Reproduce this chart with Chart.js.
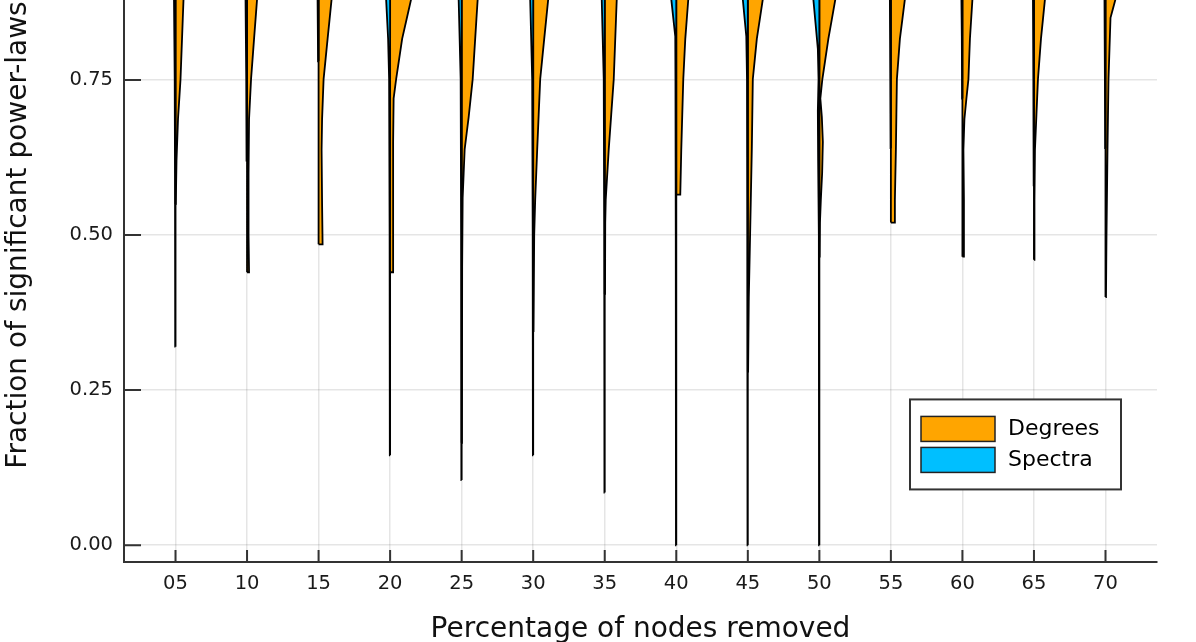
<!DOCTYPE html>
<html>
<head>
<meta charset="utf-8">
<script src="https://cdn.jsdelivr.net/npm/chart.js@4"></script>
<style>
  body { margin: 0; overflow: hidden; background: #fff; }
  #wrap { position: absolute; left: 0; top: -130px; width: 1196px; height: 772px; }
</style>
</head>
<body>
<div id="wrap"><canvas id="myChart"></canvas></div>
<script>
// categories on the x axis (percentage of nodes removed)
const categories = [5, 10, 15, 20, 25, 30, 35, 40, 45, 50, 55, 60, 65, 70];
const tickLabels = ['05', '10', '15', '20', '25', '30', '35', '40', '45', '50', '55', '60', '65', '70'];
const yTicks = [0, 0.25, 0.5, 0.75, 1.0];

// violin outlines: [value, density] pairs, bottom to top
// Degrees = right half (orange), Spectra = left half (blue)
const degreesProfiles = [
  [[0.55, 0.3], [0.62, 1], [0.687, 2.5], [0.751, 5], [0.816, 6.5], [0.88, 8], [0.94, 11], [1.0, 13]],
  [[0.44, 2], [0.5, 1.5], [0.6, 1.5], [0.687, 2], [0.751, 4], [0.816, 7], [0.88, 10], [0.94, 13], [1.0, 15]],
  [[0.485, 4], [0.55, 3.5], [0.638, 3], [0.687, 3.5], [0.751, 5], [0.816, 9], [0.88, 13], [0.94, 16], [1.0, 18]],
  [[0.44, 3], [0.55, 3], [0.65, 3], [0.72, 3.5], [0.751, 6], [0.816, 12], [0.88, 21], [0.94, 26], [1.0, 28]],
  [[0.165, 0.3], [0.45, 0.5], [0.56, 1], [0.638, 3], [0.69, 7], [0.751, 11], [0.816, 13.5], [0.88, 16], [0.94, 19], [1.0, 21]],
  [[0.345, 0.3], [0.5, 1], [0.557, 2], [0.638, 4], [0.751, 7], [0.816, 11], [0.88, 15], [0.94, 18], [1.0, 20]],
  [[0.405, 0.3], [0.52, 0.5], [0.557, 1], [0.638, 4], [0.751, 9], [0.816, 10.5], [0.88, 12], [0.94, 15], [1.0, 17]],
  [[0.565, 4], [0.638, 5], [0.751, 7], [0.816, 9], [0.88, 12], [0.94, 15], [1.0, 17]],
  [[0.28, 0.3], [0.4, 1], [0.477, 2], [0.557, 3], [0.638, 4], [0.751, 5], [0.816, 9], [0.88, 15], [0.94, 19], [1.0, 21]],
  [[0.465, 0.3], [0.52, 0.6], [0.557, 1.5], [0.6, 2.8], [0.65, 3.5], [0.69, 2.5], [0.72, 1], [0.751, 3], [0.816, 9], [0.88, 16], [0.94, 20], [1.0, 22]],
  [[0.52, 4], [0.557, 4], [0.638, 5], [0.751, 6], [0.816, 9], [0.88, 14], [0.94, 17], [1.0, 19]],
  [[0.465, 1.5], [0.557, 1.5], [0.638, 1], [0.687, 2], [0.72, 4], [0.751, 6], [0.816, 7.5], [0.88, 10], [0.94, 14], [1.0, 16]],
  [[0.46, 0.5], [0.557, 0.5], [0.638, 1], [0.751, 4], [0.816, 7], [0.88, 11], [0.94, 14], [1.0, 16]],
  [[0.40, 0.5], [0.5, 1], [0.638, 2], [0.751, 3], [0.85, 5], [0.88, 10], [0.94, 13], [1.0, 15]]
];
const spectraProfiles = [
  [[0.32, 0.3], [0.6, 0.5], [0.751, 0.8], [0.88, 1.5], [0.94, 4], [1.0, 6]],
  [[0.62, 0.5], [0.751, 0.8], [0.88, 1.5], [0.94, 3], [1.0, 5]],
  [[0.78, 0.5], [0.88, 1], [0.94, 3], [1.0, 5]],
  [[0.145, 0.3], [0.5, 0.5], [0.751, 1], [0.816, 2], [0.88, 4], [0.94, 8], [1.0, 10]],
  [[0.105, 0.3], [0.5, 0.5], [0.751, 1], [0.88, 3], [0.94, 7], [1.0, 9]],
  [[0.145, 0.3], [0.5, 0.5], [0.751, 1], [0.88, 3], [0.94, 7], [1.0, 9]],
  [[0.085, 0.3], [0.5, 0.5], [0.751, 1], [0.88, 3], [0.94, 7], [1.0, 9]],
  [[0.0, 0.3], [0.5, 0.5], [0.751, 0.8], [0.82, 1], [0.88, 5], [0.94, 9], [1.0, 11]],
  [[0.0, 0.3], [0.5, 0.5], [0.751, 0.8], [0.82, 1.5], [0.88, 5], [0.94, 9], [1.0, 11]],
  [[0.0, 0.3], [0.5, 0.5], [0.62, 1.2], [0.7, 1.5], [0.751, 0.8], [0.8, 1.5], [0.88, 6], [0.94, 10], [1.0, 12]],
  [[0.64, 0.3], [0.751, 0.6], [0.88, 1], [0.94, 3], [1.0, 5]],
  [[0.72, 0.3], [0.82, 0.6], [0.88, 1], [0.94, 3], [1.0, 5]],
  [[0.58, 0.3], [0.751, 0.6], [0.88, 1], [0.94, 3], [1.0, 5]],
  [[0.64, 0.3], [0.751, 0.6], [0.88, 1], [0.94, 3], [1.0, 5]]
];

const densityToX = 0.07; // x units per density unit
const orange = '#FFA500';
const blue = '#00BFFF';

// closed half-violin outline: centre bottom -> edge -> centre top -> back down the centre
function halfViolin(center, profile, side) {
  const pts = [{x: center, y: profile[0][0]}];
  profile.forEach(p => pts.push({x: center + side * p[1] * densityToX, y: p[0]}));
  pts.push({x: center, y: profile[profile.length - 1][0]});
  pts.push({x: center, y: profile[0][0]});
  return pts;
}

const datasets = [];
categories.forEach((c, i) => {
  datasets.push({
    label: 'Spectra',
    data: halfViolin(c, spectraProfiles[i], -1),
    backgroundColor: blue, borderColor: '#000', borderWidth: 1.8,
    showLine: true, fill: 'shape', tension: 0.001, pointRadius: 0
  });
  datasets.push({
    label: 'Degrees',
    data: halfViolin(c, degreesProfiles[i], 1),
    backgroundColor: orange, borderColor: '#000', borderWidth: 1.8,
    showLine: true, fill: 'shape', tension: 0.001, pointRadius: 0
  });
});

// inward tick marks + boxed legend
const extras = {
  id: 'extras',
  afterDraw(chart) {
    const {ctx, chartArea: a, scales: {x, y}} = chart;
    ctx.save();
    ctx.strokeStyle = '#333';
    ctx.lineWidth = 2;
    ctx.beginPath();
    categories.forEach(c => {
      const px = x.getPixelForValue(c);
      ctx.moveTo(px, a.bottom); ctx.lineTo(px, a.bottom - 12);
    });
    yTicks.forEach(v => {
      const py = y.getPixelForValue(v);
      ctx.moveTo(a.left, py); ctx.lineTo(a.left + 17, py);
    });
    ctx.stroke();

    // legend box
    const bx = a.right - 247, by = y.getPixelForValue(0.235), bw = 211, bh = 90;
    ctx.fillStyle = '#fff';
    ctx.fillRect(bx, by, bw, bh);
    ctx.strokeStyle = '#333';
    ctx.lineWidth = 2;
    ctx.strokeRect(bx, by, bw, bh);
    const items = [['Degrees', orange], ['Spectra', blue]];
    ctx.font = '22px "DejaVu Sans"';
    ctx.textBaseline = 'middle';
    items.forEach((it, k) => {
      const sy = by + 17 + k * 31;
      ctx.fillStyle = it[1];
      ctx.fillRect(bx + 11, sy, 74, 25);
      ctx.lineWidth = 1.5;
      ctx.strokeStyle = '#222';
      ctx.strokeRect(bx + 11, sy, 74, 25);
      ctx.fillStyle = '#000';
      ctx.fillText(it[0], bx + 98, sy + 13);
    });
    ctx.restore();
  }
};

const config = {
  type: 'scatter',
  data: { datasets },
  options: {
    responsive: true,
    maintainAspectRatio: false,
    animation: false,
    layout: { padding: { top: 38, right: 39, left: 0, bottom: 0 } },
    plugins: { legend: { display: false }, tooltip: { enabled: false } },
    scales: {
      x: {
        type: 'linear', min: 1.4, max: 73.6,
        afterFit: s => { s.height = 80; },
        afterBuildTicks: s => { s.ticks = categories.map(v => ({value: v})); },
        ticks: {
          callback: (v) => tickLabels[categories.indexOf(v)],
          font: { family: 'DejaVu Sans', size: 19.5 }, color: '#1a1a1a', padding: 10, maxRotation: 0
        },
        grid: { color: 'rgba(0,0,0,0.1)', lineWidth: 1.5, drawTicks: false },
        border: { display: true, color: '#333', width: 2 },
        title: {
          display: true, text: 'Percentage of nodes removed',
          font: { family: 'DejaVu Sans', size: 28, lineHeight: 0.85 }, color: '#111',
          padding: { top: 0, bottom: 0 }
        }
      },
      y: {
        min: -0.027, max: 1.027,
        afterFit: s => { s.width = 124; },
        afterBuildTicks: s => { s.ticks = yTicks.map(v => ({value: v})); },
        ticks: {
          callback: v => v.toFixed(2),
          font: { family: 'DejaVu Sans', size: 19.5 }, color: '#1a1a1a', padding: 11
        },
        grid: { color: 'rgba(0,0,0,0.1)', lineWidth: 1.5, drawTicks: false },
        border: { display: true, color: '#333', width: 2 },
        title: {
          display: true, text: 'Fraction of significant power-laws',
          font: { family: 'DejaVu Sans', size: 28, lineHeight: 1 }, color: '#111',
          padding: { top: 5, bottom: 0 }
        }
      }
    }
  },
  plugins: [extras]
};

new Chart(document.getElementById('myChart'), config);
</script>
</body>
</html>
